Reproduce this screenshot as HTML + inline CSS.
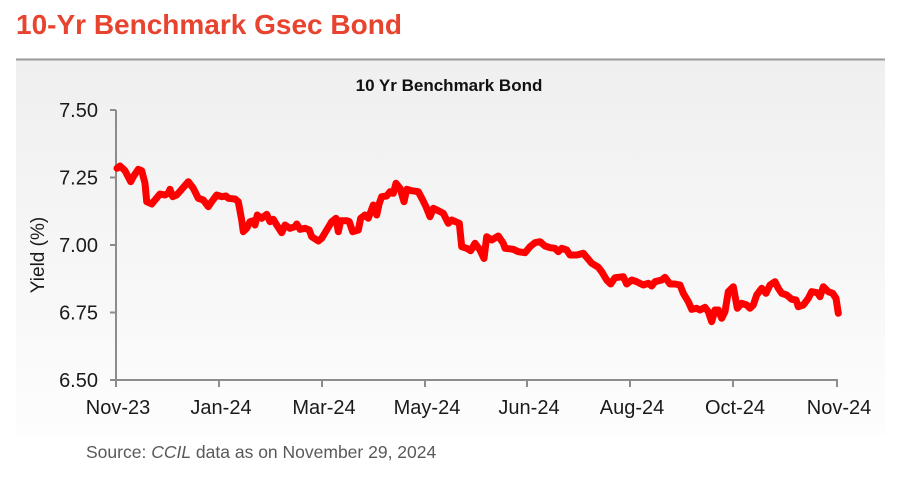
<!DOCTYPE html>
<html>
<head>
<meta charset="utf-8">
<style>
html,body{margin:0;padding:0;background:#fff;}
body{width:905px;height:481px;overflow:hidden;}
svg{display:block;}
text{font-family:"Liberation Sans",sans-serif;}
</style>
</head>
<body>
<svg width="905" height="481" viewBox="0 0 905 481" xmlns="http://www.w3.org/2000/svg">
<defs>
<linearGradient id="bg" x1="0" y1="0" x2="0" y2="1">
<stop offset="0" stop-color="#efefef"/>
<stop offset="1" stop-color="#fdfdfd"/>
</linearGradient>
</defs>
<rect x="0" y="0" width="905" height="481" fill="#fff"/>
<text x="16" y="34" font-size="28" font-weight="bold" fill="#E8432E">10-Yr Benchmark Gsec Bond</text>
<rect x="16" y="59" width="869" height="376" fill="url(#bg)"/>
<line x1="16" y1="59.5" x2="885" y2="59.5" stroke="#9a9a9a" stroke-width="2"/>
<text x="449" y="91" font-size="17" font-weight="bold" fill="#111" text-anchor="middle">10 Yr Benchmark Bond</text>

<!-- axes -->
<g stroke="#8c8c8c" stroke-width="2" fill="none">
<line x1="116" y1="110" x2="116" y2="381"/>
<line x1="115" y1="380" x2="838" y2="380"/>
<line x1="110" y1="110" x2="116" y2="110"/>
<line x1="110" y1="177.5" x2="116" y2="177.5"/>
<line x1="110" y1="245" x2="116" y2="245"/>
<line x1="110" y1="312.5" x2="116" y2="312.5"/>
<line x1="110" y1="380" x2="116" y2="380"/>
<line x1="116" y1="380" x2="116" y2="387"/>
<line x1="219" y1="380" x2="219" y2="387"/>
<line x1="322" y1="380" x2="322" y2="387"/>
<line x1="425" y1="380" x2="425" y2="387"/>
<line x1="527" y1="380" x2="527" y2="387"/>
<line x1="630" y1="380" x2="630" y2="387"/>
<line x1="733" y1="380" x2="733" y2="387"/>
<line x1="837" y1="380" x2="837" y2="387"/>
</g>

<g font-size="20" fill="#1a1a1a" text-anchor="end">
<text x="98" y="117">7.50</text>
<text x="98" y="184.5">7.25</text>
<text x="98" y="252">7.00</text>
<text x="98" y="319.5">6.75</text>
<text x="98" y="387">6.50</text>
</g>
<text transform="translate(44,255) rotate(-90)" font-size="19" fill="#1a1a1a" text-anchor="middle">Yield (%)</text>

<g font-size="20" fill="#1a1a1a" text-anchor="middle">
<text x="118" y="414">Nov-23</text>
<text x="221" y="414">Jan-24</text>
<text x="324" y="414">Mar-24</text>
<text x="427" y="414">May-24</text>
<text x="529" y="414">Jun-24</text>
<text x="632" y="414">Aug-24</text>
<text x="735" y="414">Oct-24</text>
<text x="839" y="414">Nov-24</text>
</g>

<polyline fill="none" stroke="#ff0000" stroke-width="7" stroke-linejoin="round" stroke-linecap="round" points="
117,168.3 120,166 125,170.7 130.7,181.7 133.3,176.7 138.3,169.3 141.7,170.7 145,183.3 146.7,201.7 151.7,204 155,200 160,194 165,195 168.3,193.3 170,189.3 172.7,196.7 176.7,195 181.7,189.3 188.3,181.7 193.3,188.3 198.3,198.3 203.3,200 208.3,206.7 211.7,201.7 216.7,195 221.7,196.7 226,196 228.3,198.3 235,199 238.3,201.7 241.7,220 243.3,231.7 246.7,228.3 250,221.7 253.3,220.7 255,225 257.3,215 261.7,218.3 266.7,214.3 270,221.7 273.3,219.3 276.7,225 281.7,232.7 285,225 290,228.3 295,226.7 296.7,224 300,229.3 305,228.3 309.3,230 311.7,236.7 318.3,241 321.7,238.3 326.7,230 331.7,221.7 336,218.3 338.3,231.7 340.7,220.7 346.7,220.7 349.3,221.7 352.7,231.7 358.3,230 360.7,218.3 365,215 368.3,218.3 373.3,205 376.7,215 379.3,203.3 381.7,196.7 386.7,196 390,191.7 393.3,193.3 396,183.3 400,188.3 404,201.7 406.7,189.3 411.7,190.7 418.3,191.7 422.7,200 426,206.7 430,216.7 433.3,208.3 438.3,210.7 443.3,213.3 448.3,223.3 451.7,220 459.3,223.3 461.7,246.7 466.7,248.3 470.7,250.7 475,243.3 480,250 484,258.5 486.7,236.7 491.7,240 498.3,236 503.3,243.3 505,248.3 513.3,249.3 518.3,251.7 525,252.7 530,246.7 535,242.7 540,241.7 545,246 550,247.7 555,248.3 558.3,251.7 561.7,248.3 566.7,250 570,255 576.7,255 583.3,253.3 586.7,257.3 591.7,263.3 598.3,267.3 601.7,271.7 606.7,280 610.7,284 615,277.7 623.3,276.7 626.7,284 631.7,280 636.7,281.7 643.3,285 648.3,283.3 651.7,286 655,281.7 661.7,280 665,277.3 670,284 675,284 680,285 683.3,293.3 688.3,301.7 691.7,309.3 696.7,308.3 700,310 705,307.3 708.3,311.7 711.7,321.7 715,310 718.3,310 721.7,318.3 725,311.7 728.3,291.7 733.3,286.7 737.3,308.3 741.7,303.3 746.7,305 750,308.3 753.3,305 756.7,295 761.7,288.3 766,293.3 770,285 775,281.7 778.3,288.3 781.7,293.3 786.7,295 791.7,299.3 796,300 798.3,306.7 803.3,305 808.3,298.3 811.7,291.7 817.3,292.7 820,296.7 823.3,286.7 828.3,291.7 832.7,293.3 836,298.3 838.3,313.3"/>

<text x="86" y="458" font-size="17.5" fill="#595959">Source: <tspan font-style="italic">CCIL</tspan> data as on November 29, 2024</text>
</svg>
</body>
</html>
